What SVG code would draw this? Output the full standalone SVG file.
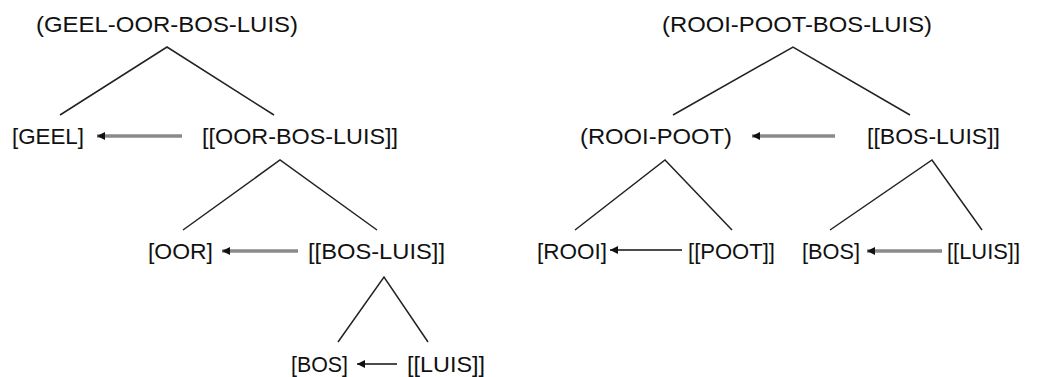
<svg xmlns="http://www.w3.org/2000/svg" width="1060" height="377" viewBox="0 0 1060 377">
  <style>
    .lbl { font-family: "Liberation Sans", Arial, sans-serif; font-size: 22px; fill: #111; }
    .edge { stroke: #222; stroke-width: 1.5; fill: none; }
    .ptr { stroke: #8a8a8a; stroke-width: 3.5; fill: none; }
    .ptr-thin { stroke: #111; stroke-width: 1.6; fill: none; }
  </style>
  <defs>
    <!-- arrowhead tip sits on the line end -->
    <marker id="head" viewBox="0 0 10 10" refX="10" refY="5" markerUnits="userSpaceOnUse" markerWidth="10" markerHeight="8" orient="auto">
      <path d="M0,0 L10,5 L0,10 Z" fill="#111"/>
    </marker>
  </defs>
  <rect width="1060" height="377" fill="#fff"/>

  <!-- left tree nodes -->
  <g id="n-geel-oor-bos-luis"><text class="lbl" x="36" y="32" textLength="262" lengthAdjust="spacingAndGlyphs">(GEEL-OOR-BOS-LUIS)</text></g>
  <g id="n-geel"><text class="lbl" x="12" y="144" textLength="72" lengthAdjust="spacingAndGlyphs">[GEEL]</text></g>
  <g id="n-oor-bos-luis"><text class="lbl" x="202" y="144" textLength="196" lengthAdjust="spacingAndGlyphs">[[OOR-BOS-LUIS]]</text></g>
  <g id="n-oor"><text class="lbl" x="148" y="259" textLength="65" lengthAdjust="spacingAndGlyphs">[OOR]</text></g>
  <g id="n-bos-luis-l"><text class="lbl" x="308" y="259" textLength="137" lengthAdjust="spacingAndGlyphs">[[BOS-LUIS]]</text></g>
  <g id="n-bos-l"><text class="lbl" x="291" y="372" textLength="57" lengthAdjust="spacingAndGlyphs">[BOS]</text></g>
  <g id="n-luis-l"><text class="lbl" x="407" y="372" textLength="78" lengthAdjust="spacingAndGlyphs">[[LUIS]]</text></g>

  <!-- right tree nodes -->
  <g id="n-rooi-poot-bos-luis"><text class="lbl" x="662" y="32" textLength="270" lengthAdjust="spacingAndGlyphs">(ROOI-POOT-BOS-LUIS)</text></g>
  <g id="n-rooi-poot"><text class="lbl" x="580" y="144" textLength="152" lengthAdjust="spacingAndGlyphs">(ROOI-POOT)</text></g>
  <g id="n-bos-luis-r"><text class="lbl" x="867" y="144" textLength="133" lengthAdjust="spacingAndGlyphs">[[BOS-LUIS]]</text></g>
  <g id="n-rooi"><text class="lbl" x="537" y="259" textLength="70" lengthAdjust="spacingAndGlyphs">[ROOI]</text></g>
  <g id="n-poot"><text class="lbl" x="688" y="259" textLength="87" lengthAdjust="spacingAndGlyphs">[[POOT]]</text></g>
  <g id="n-bos-r"><text class="lbl" x="802" y="259" textLength="58" lengthAdjust="spacingAndGlyphs">[BOS]</text></g>
  <g id="n-luis-r"><text class="lbl" x="947" y="259" textLength="73" lengthAdjust="spacingAndGlyphs">[[LUIS]]</text></g>

  <!-- connectors -->
  <g id="connectors">
    <!-- branches -->
    <polyline class="edge" points="60,115 167,47 274,115"/>
    <polyline class="edge" points="183,230 280,160 377,230"/>
    <polyline class="edge" points="338,342 384,277 428,342"/>
    <polyline class="edge" points="673,115 793,47 910,115"/>
    <polyline class="edge" points="575,230 665,160 732,230"/>
    <polyline class="edge" points="830,230 932,160 982,230"/>
    <!-- head-pointing arrows -->
    <line class="ptr" x1="182" y1="136" x2="97" y2="136" marker-end="url(#head)"/>
    <line class="ptr" x1="298" y1="251" x2="222" y2="251" marker-end="url(#head)"/>
    <line class="ptr" x1="835" y1="136" x2="752" y2="136" marker-end="url(#head)"/>
    <line class="ptr" x1="942" y1="251" x2="867" y2="251" marker-end="url(#head)"/>
    <line class="ptr-thin" x1="397" y1="364" x2="357" y2="364" marker-end="url(#head)"/>
    <line class="ptr-thin" x1="682" y1="250" x2="610" y2="250" marker-end="url(#head)"/>
  </g>
</svg>
